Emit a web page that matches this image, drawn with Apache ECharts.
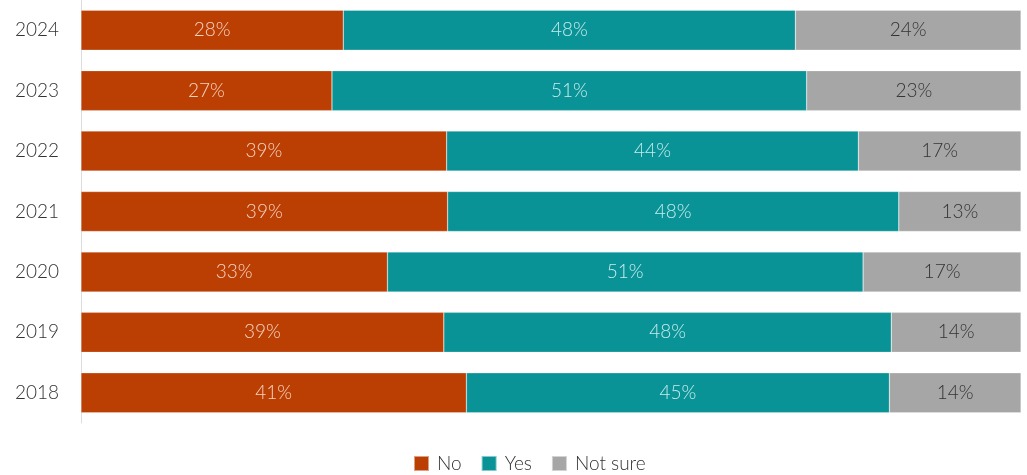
<!DOCTYPE html>
<html>
<head>
<meta charset="utf-8">
<script src="https://cdn.jsdelivr.net/npm/echarts@6/dist/echarts.min.js"></script>
<style>html,body{margin:0;padding:0;background:#fff}#c{width:1027px;height:475px}</style>
</head>
<body>
<div id="c"></div>
<script>
const years = ['2024','2023','2022','2021','2020','2019','2018'];
const noValues = [27.9, 26.7, 38.9, 39.0, 32.6, 38.6, 41.0];
const yesValues = [48.1, 50.5, 43.8, 48.0, 50.6, 47.6, 45.0];
const notSureValues = [24.0, 22.8, 17.3, 13.0, 16.8, 13.8, 14.0];
const seriesNames = ['No', 'Yes', 'Not sure'];

const FONT = 'Lato, "Noto Sans", sans-serif';
const colors = ['#bb3e03', '#0a9396', '#a6a6a6'];
const labelColors = ['#f5d3c2', '#c8ecec', '#333333'];
const values = [noValues, yesValues, notSureValues];

const chart = echarts.init(document.getElementById('c'), null, {renderer: 'canvas'});
chart.setOption({
  animation: false,
  textStyle: {fontFamily: FONT},
  grid: {left: 81, right: 6, top: -2, bottom: 52, containLabel: false},
  legend: {
    top: 449, left: 408,
    itemWidth: 15, itemHeight: 15, itemGap: 19,
    icon: 'rect',
    textStyle: {fontFamily: FONT, fontSize: 19, fontWeight: 300, color: '#333', padding: [0,0,0,3]},
    data: seriesNames
  },
  xAxis: {type: 'value', min: 0, max: 100, show: false},
  yAxis: {
    type: 'category', data: years, inverse: true,
    axisLine: {show: true, lineStyle: {color: '#dddddd', width: 1}},
    axisTick: {show: false},
    axisLabel: {fontFamily: FONT, fontSize: 19, fontWeight: 300, color: '#333', margin: 22}
  },
  series: seriesNames.map((name, i) => ({
    name: name, type: 'bar', stack: 'total',
    barWidth: 40,
    data: values[i],
    itemStyle: {color: colors[i], borderColor: 'rgba(255,255,255,0.5)', borderWidth: 0.5},
    label: {
      show: true, position: 'inside',
      fontFamily: FONT, fontSize: 19, fontWeight: 300, color: labelColors[i],
      formatter: p => Math.round(p.value) + '%'
    }
  }))
});
</script>
</body>
</html>
